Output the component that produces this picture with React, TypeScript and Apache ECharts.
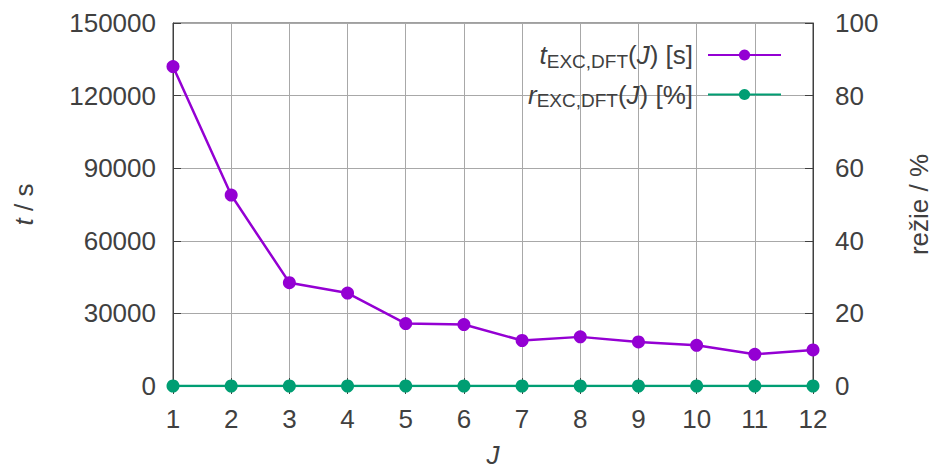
import React, { useEffect, useRef } from "react";
import * as echarts from "echarts";

const categories = ["1", "2", "3", "4", "5", "6", "7", "8", "9", "10", "11", "12"];
const tExcDft = [132000, 78900, 42700, 38400, 25800, 25400, 18800, 20300, 18200, 16800, 13100, 14900];
const rExcDft = [0, 0, 0, 0, 0, 0, 0, 0, 0, 0, 0, 0];
const leftTicks = { min: 0, max: 150000, interval: 30000 };
const rightTicks = { min: 0, max: 100, interval: 20 };

const FONT = "Liberation Sans, Arial, sans-serif";
const TXT = "#404040";
const FRAME = "#404040";
const GRID = "#a8a8a8";
const PURPLE = "#9400d3";
const GREEN = "#009e73";
const FS = 26;

export default function App() {
  const ref = useRef<HTMLDivElement>(null);
  useEffect(() => {
    document.body.style.margin = "0";
    if (!ref.current) return;
    const chart = echarts.init(ref.current, null, { renderer: "svg" });
    const rich = {
      i: { fontStyle: "italic", fontSize: FS, fontFamily: FONT, color: TXT },
      sub: { fontSize: 19, fontFamily: FONT, color: TXT, padding: [12, 0, 0, 0] },
      n: { fontSize: FS, fontFamily: FONT, color: TXT },
    };
    chart.setOption({
      animation: false,
      textStyle: { fontFamily: FONT },
      grid: {
        left: 173,
        right: 120,
        top: 23,
        bottom: 86,
        containLabel: false,
        outerBoundsMode: "none",
        show: true,
        borderColor: FRAME,
        borderWidth: 1,
        backgroundColor: "transparent",
      },
      legend: {
        orient: "vertical",
        right: 151,
        top: 42,
        padding: 0,
        align: "right",
        itemWidth: 73,
        itemHeight: 14,
        itemGap: 11,
        selectedMode: false,
        data: ["t", "r"],
        formatter: (name: string) =>
          name === "t"
            ? "{i|t}{sub|EXC,DFT}{n|(}{i|J}{n|) [s]}"
            : "{i|r}{sub|EXC,DFT}{n|(}{i|J}{n|) [%]}",
        textStyle: { rich, fontSize: FS, color: TXT, padding: [0, 10, 0, 0] },
      },
      xAxis: [
        {
          type: "category",
          data: categories,
          boundaryGap: false,
          position: "bottom",
          name: "J",
          nameLocation: "middle",
          nameGap: 56,
          nameTextStyle: { fontStyle: "italic", fontSize: FS, color: TXT, fontFamily: FONT },
          axisLine: { show: true, lineStyle: { color: FRAME, width: 1 } },
          axisTick: { show: true, inside: true, length: 8, alignWithLabel: true, lineStyle: { color: FRAME } },
          axisLabel: { fontSize: FS, color: TXT, margin: 20, fontFamily: FONT },
          splitLine: { show: true, lineStyle: { color: GRID, width: 1 } },
        },
        {
          type: "category",
          data: categories,
          boundaryGap: false,
          position: "top",
          axisLine: { show: true, lineStyle: { color: FRAME, width: 1 } },
          axisTick: { show: true, inside: true, length: 8, lineStyle: { color: FRAME } },
          axisLabel: { show: false },
          splitLine: { show: false },
        },
      ],
      yAxis: [
        {
          type: "value",
          ...leftTicks,
          position: "left",
          name: "{i|t}{n| / s}",
          nameLocation: "middle",
          nameRotate: 90,
          nameGap: 136,
          nameTextStyle: { rich, fontSize: FS, color: TXT },
          axisLine: { show: true, lineStyle: { color: FRAME, width: 1 } },
          axisTick: { show: true, inside: true, length: 8, lineStyle: { color: FRAME } },
          axisLabel: { fontSize: FS, color: TXT, margin: 17, fontFamily: FONT, formatter: (v: number) => String(v) },
          splitLine: { show: true, lineStyle: { color: GRID, width: 1 } },
        },
        {
          type: "value",
          ...rightTicks,
          position: "right",
          name: "režie / %",
          nameLocation: "middle",
          nameRotate: 90,
          nameGap: 93,
          nameTextStyle: { fontSize: FS, color: TXT, fontFamily: FONT },
          axisLine: { show: true, lineStyle: { color: FRAME, width: 1 } },
          axisTick: { show: true, inside: true, length: 8, lineStyle: { color: FRAME } },
          axisLabel: { fontSize: FS, color: TXT, margin: 22, fontFamily: FONT, formatter: (v: number) => String(v) },
          splitLine: { show: false },
        },
      ],
      series: [
        {
          name: "t",
          type: "line",
          xAxisIndex: 0,
          yAxisIndex: 0,
          data: tExcDft,
          symbol: "circle",
          symbolSize: 13,
          lineStyle: { color: PURPLE, width: 2.5 },
          itemStyle: { color: PURPLE },
          z: 3,
        },
        {
          name: "r",
          type: "line",
          xAxisIndex: 0,
          yAxisIndex: 1,
          data: rExcDft,
          symbol: "circle",
          symbolSize: 13,
          lineStyle: { color: GREEN, width: 2.5 },
          itemStyle: { color: GREEN },
          z: 4,
        },
      ],
    });
    return () => chart.dispose();
  }, []);
  return <div ref={ref} style={{ width: 933, height: 472 }} />;
}
